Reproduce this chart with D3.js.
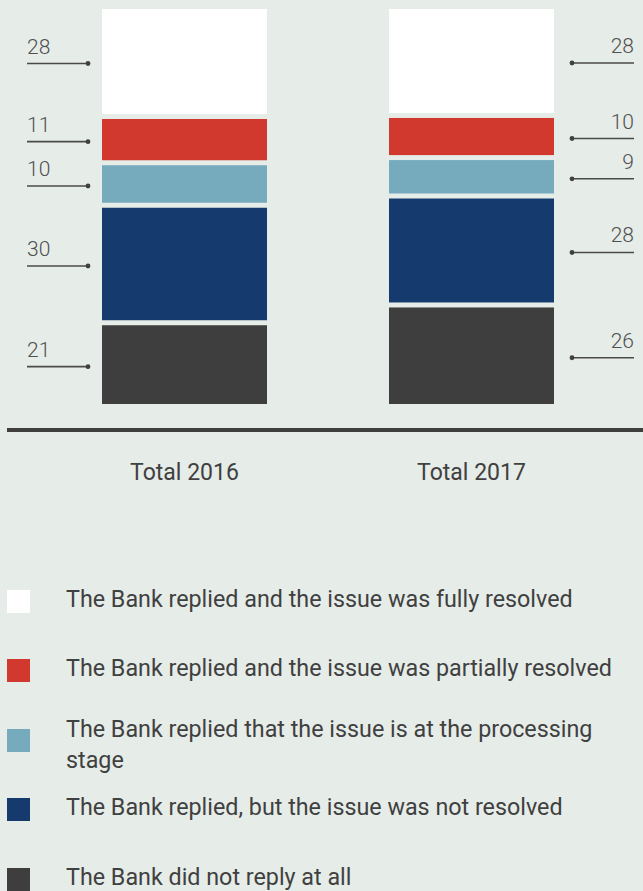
<!DOCTYPE html>
<html>
<head>
<meta charset="utf-8">
<script src="https://cdn.jsdelivr.net/npm/d3@7"></script>
<style>
  html, body { margin: 0; padding: 0; background: #e6ece8; }
  svg { display: block; font-family: Roboto, "Noto Sans", sans-serif; }
</style>
</head>
<body>
<svg id="chart" width="643" height="891"></svg>
<script>
// Categories (one stacked bar each)
const years = ["Total 2016", "Total 2017"];

// Response types, listed from the top of each stack down
const responses = [
  "The Bank replied and the issue was fully resolved",
  "The Bank replied and the issue was partially resolved",
  "The Bank replied that the issue is at the processing stage",
  "The Bank replied, but the issue was not resolved",
  "The Bank did not reply at all"
];

// Shares (%) per response type, same order as above
const values2016 = [28, 11, 10, 30, 21];
const values2017 = [28, 10, 9, 28, 26];

const colors = ["#ffffff", "#d2392e", "#76aabd", "#153b6e", "#3e3e3e"];

const svg = d3.select("#chart");
const textColor = "#404040";

const series = [values2016, values2017];

// Horizontal placement of the two bars
const x = d3.scaleBand().domain(years).range([102, 554]).paddingInner(0.4251).paddingOuter(0);

// Vertical extent of each stack; segments are separated by a small gap
const stackTop = 9, stackBottom = 404, gap = 5;
const usable = (stackBottom - stackTop) - gap * (responses.length - 1);
const h = d3.scaleLinear().domain([0, 1]).range([0, usable]);

years.forEach((year, bi) => {
  const vals = series[bi];
  const total = d3.sum(vals);
  // stack from the bottom (last response) upwards
  let cum = 0;
  const segs = [];
  for (let i = responses.length - 1; i >= 0; i--) {
    const k = responses.length - 1 - i; // index from bottom
    const y1 = stackBottom - h(cum / total) - k * gap;
    cum += vals[i];
    const y0 = stackBottom - h(cum / total) - k * gap;
    segs.push({ i, value: vals[i], y0, y1 });
  }

  const g = svg.append("g");
  g.selectAll("rect").data(segs).join("rect")
    .attr("x", x(year))
    .attr("width", x.bandwidth())
    .attr("y", d => d.y0)
    .attr("height", d => d.y1 - d.y0)
    .attr("fill", d => colors[d.i]);

  // value callouts: number above a short leader line ending in a dot
  const left = bi === 0;
  const lineX0 = left ? 27 : 572;
  const lineX1 = left ? 88 : 634;
  const dotX = left ? lineX1 : lineX0;
  const lab = g.selectAll("g.lab").data(segs).join("g").attr("class", "lab")
    .attr("transform", d => `translate(0,${(d.y0 + d.y1) / 2 + 2})`);
  lab.append("line")
    .attr("x1", lineX0).attr("x2", lineX1)
    .attr("y1", 0).attr("y2", 0)
    .attr("stroke", "#4a4a4a").attr("stroke-width", 1.6);
  lab.append("circle").attr("cx", dotX).attr("cy", 0).attr("r", 2.4).attr("fill", "#404040");
  lab.append("text")
    .attr("x", left ? lineX0 : lineX1)
    .attr("y", -10)
    .attr("text-anchor", left ? "start" : "end")
    .attr("font-size", 21).attr("font-weight", 300)
    .attr("fill", "#505050")
    .text(d => d.value);
});

// baseline
svg.append("line")
  .attr("x1", 7).attr("x2", 643).attr("y1", 430).attr("y2", 430)
  .attr("stroke", "#3f3f3f").attr("stroke-width", 4);

// category labels
svg.selectAll("text.cat").data(years).join("text").attr("class", "cat")
  .attr("x", d => x(d) + x.bandwidth() / 2)
  .attr("y", 480)
  .attr("text-anchor", "middle")
  .attr("font-size", 23)
  .attr("fill", textColor)
  .text(d => d);

// legend
const legendRows = [
  { y: 590, lines: ["The Bank replied and the issue was fully resolved"] },
  { y: 659, lines: ["The Bank replied and the issue was partially resolved"] },
  { y: 729, lines: ["The Bank replied that the issue is at the processing", "stage"] },
  { y: 798, lines: ["The Bank replied, but the issue was not resolved"] },
  { y: 868, lines: ["The Bank did not reply at all"] }
];
const legend = svg.append("g");
legendRows.forEach((row, i) => {
  legend.append("rect")
    .attr("x", 7).attr("y", row.y).attr("width", 23).attr("height", 23)
    .attr("fill", colors[i]);
  const firstBaseline = row.lines.length === 1 ? row.y + 17 : row.y - 8 + 16;
  row.lines.forEach((t, j) => {
    legend.append("text")
      .attr("x", 66)
      .attr("y", firstBaseline + j * 31)
      .attr("font-size", 23.3)
      .attr("fill", textColor)
      .text(t);
  });
});
</script>
</body>
</html>
